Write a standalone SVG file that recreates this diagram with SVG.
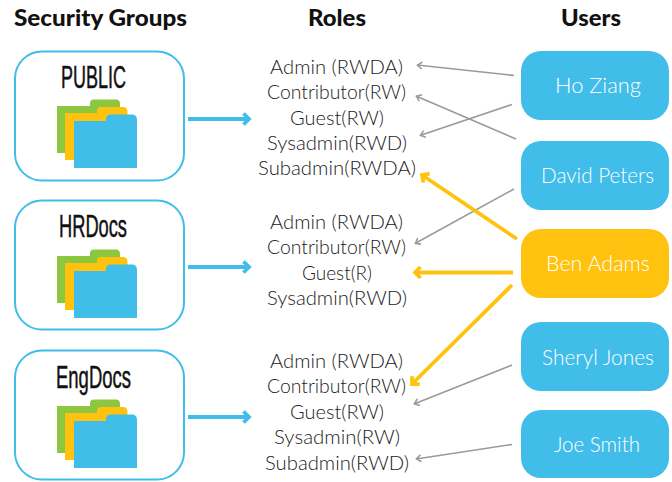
<svg xmlns="http://www.w3.org/2000/svg" xmlns:xlink="http://www.w3.org/1999/xlink" width="672" height="482" viewBox="0 0 672 482">
<style>
text{font-family:Lato,"Open Sans",sans-serif}
.h{font-size:22px;font-weight:900;fill:#111}
.g{font-family:"Liberation Sans Narrow","Liberation Sans",sans-serif;font-size:32px;font-weight:400;fill:#111;stroke:#111;stroke-width:.5}
.r{font-size:20px;font-weight:300;fill:#222}
.u{font-size:22px;font-weight:300;fill:#fff}
.box{fill:#fff;stroke:#41bde9;stroke-width:2}
.blue{fill:#41bde9}.org{fill:#ffc20e}.grn{fill:#8dc63f}
.a{fill:none}
.ag{stroke:#9a9a9c;stroke-width:1.6;marker-end:url(#mg)}
.ao{stroke:#ffc20e;stroke-width:3.8;marker-end:url(#mo)}
.ab{stroke:#41bde9;stroke-width:3.8;marker-end:url(#mb)}
</style>
<defs>
<marker id="mg" markerUnits="userSpaceOnUse" markerWidth="12" markerHeight="12" refX="10" refY="6" orient="auto"><path d="M5 2.500 L9.500 6 L5 9.500" fill="none" stroke="#9a9a9c" stroke-width="1.6"/></marker>
<marker id="mo" markerUnits="userSpaceOnUse" markerWidth="16" markerHeight="16" refX="13" refY="8" orient="auto"><path d="M7.500 2.500 L13 8 L7.500 13.500" fill="none" stroke="#ffc20e" stroke-width="3.8"/></marker>
<marker id="mb" markerUnits="userSpaceOnUse" markerWidth="16" markerHeight="16" refX="13" refY="8" orient="auto"><path d="M7.500 2.500 L13 8 L7.500 13.500" fill="none" stroke="#41bde9" stroke-width="3.8"/></marker>
<g id="folder">
<path class="grn" d="M57 106H90V103Q90 99.500 94 99.500H116Q120 99.500 120 104V153H57Z"/>
<path class="org" d="M65 113H97V111Q97 107 101 107H123Q127.500 107 127.500 112V160H65Z"/>
<path class="blue" d="M74 121H106V119Q106 114.500 111 114.500H132Q137 114.500 137 120V168H74Z"/>
</g>
</defs>

<text class="h" x="14" y="25.500" textLength="173" lengthAdjust="spacingAndGlyphs">Security Groups</text>
<text class="h" x="308" y="25.500" textLength="58" lengthAdjust="spacingAndGlyphs">Roles</text>
<text class="h" x="561" y="25.500" textLength="60" lengthAdjust="spacingAndGlyphs">Users</text>

<g id="group-public"><rect class="box" x="15" y="51.500" width="169" height="129" rx="27"/><text class="g" x="61" y="88" textLength="65" lengthAdjust="spacingAndGlyphs">PUBLIC</text><use xlink:href="#folder" href="#folder"/></g>
<g id="group-hrdocs"><rect class="box" x="15" y="200.500" width="169" height="129" rx="27"/><text class="g" x="59" y="237" textLength="68" lengthAdjust="spacingAndGlyphs">HRDocs</text><use xlink:href="#folder" href="#folder" y="150"/></g>
<g id="group-engdocs"><rect class="box" x="15" y="350.500" width="169" height="129" rx="27"/><text class="g" x="56" y="388" textLength="75" lengthAdjust="spacingAndGlyphs">EngDocs</text><use xlink:href="#folder" href="#folder" y="300"/></g>

<g id="roles-public">
<text class="r" x="270" y="74" textLength="133" lengthAdjust="spacingAndGlyphs">Admin (RWDA)</text>
<text class="r" x="267" y="99" textLength="139" lengthAdjust="spacingAndGlyphs">Contributor(RW)</text>
<text class="r" x="290" y="125" textLength="94" lengthAdjust="spacingAndGlyphs">Guest(RW)</text>
<text class="r" x="267" y="150" textLength="140" lengthAdjust="spacingAndGlyphs">Sysadmin(RWD)</text>
<text class="r" x="258" y="175" textLength="158" lengthAdjust="spacingAndGlyphs">Subadmin(RWDA)</text>
</g>
<g id="roles-hrdocs">
<text class="r" x="270" y="229" textLength="133" lengthAdjust="spacingAndGlyphs">Admin (RWDA)</text>
<text class="r" x="267" y="254" textLength="139" lengthAdjust="spacingAndGlyphs">Contributor(RW)</text>
<text class="r" x="302" y="280" textLength="70" lengthAdjust="spacingAndGlyphs">Guest(R)</text>
<text class="r" x="267" y="305" textLength="140" lengthAdjust="spacingAndGlyphs">Sysadmin(RWD)</text>
</g>
<g id="roles-engdocs">
<text class="r" x="270" y="368" textLength="133" lengthAdjust="spacingAndGlyphs">Admin (RWDA)</text>
<text class="r" x="267" y="393" textLength="139" lengthAdjust="spacingAndGlyphs">Contributor(RW)</text>
<text class="r" x="290" y="419" textLength="94" lengthAdjust="spacingAndGlyphs">Guest(RW)</text>
<text class="r" x="274" y="444" textLength="126" lengthAdjust="spacingAndGlyphs">Sysadmin(RW)</text>
<text class="r" x="265" y="470" textLength="144" lengthAdjust="spacingAndGlyphs">Subadmin(RWD)</text>
</g>

<g id="user-ho-ziang"><rect class="blue" x="521" y="51" width="148" height="69" rx="20"/><text class="u" x="555" y="93" textLength="86" lengthAdjust="spacingAndGlyphs">Ho Ziang</text></g>
<g id="user-david-peters"><rect class="blue" x="521" y="141" width="148" height="69" rx="20"/><text class="u" x="541" y="183" textLength="113" lengthAdjust="spacingAndGlyphs">David Peters</text></g>
<g id="user-ben-adams"><rect class="org" x="521" y="229" width="148" height="69" rx="20"/><text class="u" x="546" y="271" textLength="104" lengthAdjust="spacingAndGlyphs">Ben Adams</text></g>
<g id="user-sheryl-jones"><rect class="blue" x="521" y="322" width="148" height="69" rx="20"/><text class="u" x="542" y="365" textLength="112" lengthAdjust="spacingAndGlyphs">Sheryl Jones</text></g>
<g id="user-joe-smith"><rect class="blue" x="521" y="410" width="148" height="68" rx="20"/><text class="u" x="554" y="452" textLength="86" lengthAdjust="spacingAndGlyphs">Joe Smith</text></g>

<g id="connectors" class="a">
<path class="ab" d="M188 119H249"/>
<path class="ab" d="M188 267H249"/>
<path class="ab" d="M188 417H249"/>
<path class="ag" d="M514 75.500L417 65"/>
<path class="ag" d="M516 139L416 96"/>
<path class="ag" d="M512 104.500L420 135.500"/>
<path class="ag" d="M514 189L415 243.500"/>
<path class="ag" d="M512 365L414 404"/>
<path class="ag" d="M512 444.500L416 459"/>
<path class="ao" d="M517 239L422 175"/>
<path class="ao" d="M513 272.500H415"/>
<path class="ao" d="M512 285L412 384"/>
</g>
</svg>
